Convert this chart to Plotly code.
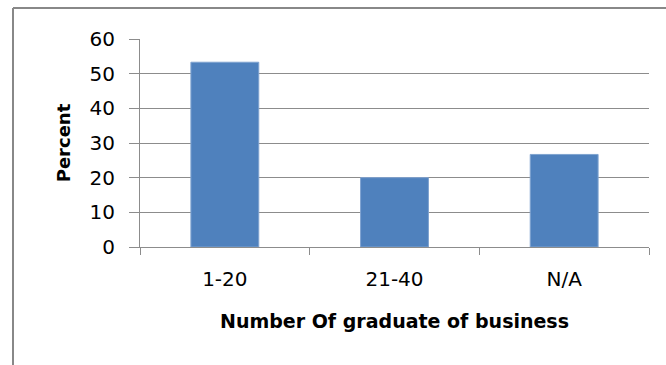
import plotly.graph_objects as go

categories = ["1-20", "21-40", "N/A"]
percent = [53.3, 20.0, 26.7]
y_ticks = [0, 10, 20, 30, 40, 50, 60]

W, H = 666, 365
L, R, T, B = 140, 17, 39, 118
pw, ph = W - L - R, H - T - B

fig = go.Figure(go.Bar(
    x=categories, y=percent,
    marker=dict(color="#4F81BD", line=dict(color="#7FA3D0", width=1)),
    width=0.4,
))

grey = "#8c8c8c"
font = "DejaVu Sans, sans-serif"

fig.update_layout(
    width=W, height=H,
    margin=dict(l=L, r=R, t=T, b=B),
    paper_bgcolor="white", plot_bgcolor="white",
    showlegend=False,
    font=dict(family=font, color="#000000"),
)
fig.update_xaxes(
    type="category",
    showline=True, linecolor=grey, linewidth=1,
    ticks="outside", tickson="boundaries", ticklen=7, tickcolor=grey, tickwidth=1,
    tickfont=dict(size=20, family=font),
    ticklabelstandoff=14,
    showgrid=False,
    title=dict(text="<b>Number Of graduate of business</b>", font=dict(size=19, family=font), standoff=24),
)
fig.update_yaxes(
    range=[0, 60], tickvals=y_ticks,
    showline=True, linecolor=grey, linewidth=1,
    ticks="outside", ticklen=10, tickcolor=grey, tickwidth=1,
    tickfont=dict(size=20, family=font),
    ticklabelstandoff=10,
    showgrid=True, gridcolor=grey, gridwidth=1,
    zeroline=False,
    title=dict(text="<b>Percent</b>", font=dict(size=18, family=font), standoff=14),
)

# outer chart frame (only top and left edges visible in the crop)
x0 = (13 - L) / pw
y0 = 1 + (T - 8) / ph
fig.add_shape(type="line", xref="paper", yref="paper", x0=x0, x1=x0, y0=-2, y1=y0,
              line=dict(color="#888888", width=2))
fig.add_shape(type="line", xref="paper", yref="paper", x0=x0, x1=2, y0=y0, y1=y0,
              line=dict(color="#888888", width=2))

fig.write_html("out.html")
